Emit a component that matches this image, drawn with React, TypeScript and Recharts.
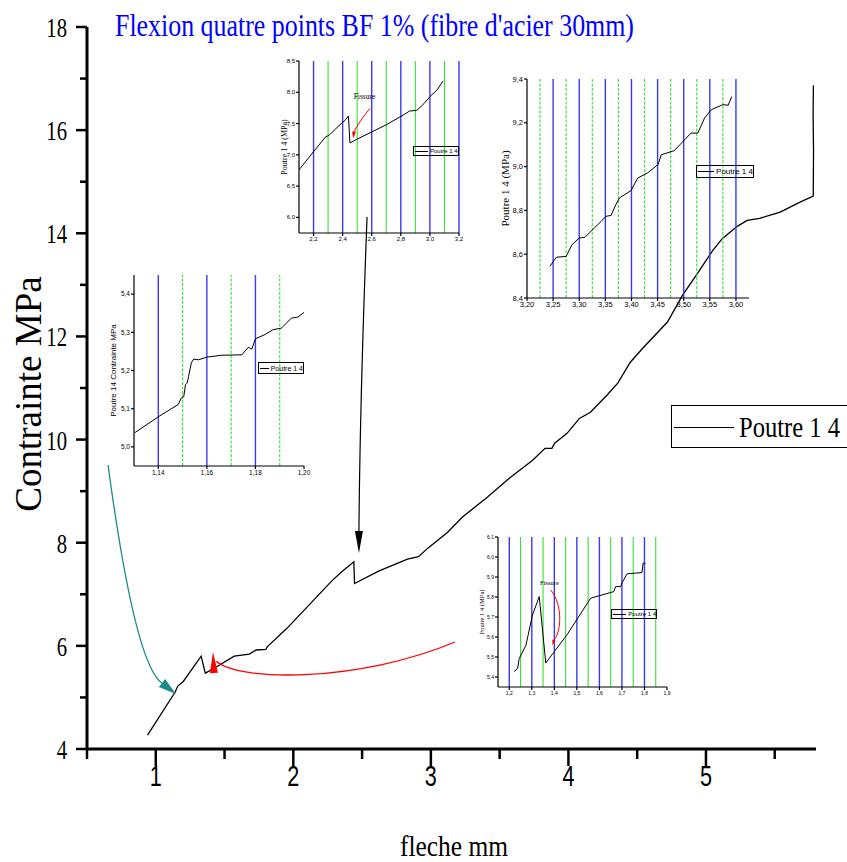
import React from 'react';
import { LineChart, Line, XAxis, YAxis, ReferenceLine } from 'recharts';

// main curve: fleche (mm) vs contrainte (MPa)
const mainFleche = [0.94, 1.14, 1.16, 1.2, 1.33, 1.36, 1.44, 1.57, 1.68, 1.73, 1.8, 1.81, 1.95, 2.11, 2.28, 2.35, 2.44, 2.445, 2.62, 2.83, 2.91, 2.98, 3.12, 3.23, 3.41, 3.57, 3.74, 3.83, 3.88, 3.9, 3.99, 4.08, 4.16, 4.28, 4.36, 4.45, 4.54, 4.72, 4.83, 4.93, 5.05, 5.12, 5.23, 5.3, 5.39, 5.54, 5.68, 5.78, 5.782, 5.779, 5.781];
const mainContrainte = [4.27, 5.1, 5.22, 5.31, 5.8, 5.47, 5.59, 5.8, 5.84, 5.92, 5.93, 5.98, 6.33, 6.78, 7.26, 7.43, 7.63, 7.21, 7.45, 7.68, 7.73, 7.9, 8.2, 8.5, 8.88, 9.25, 9.6, 9.83, 9.83, 9.93, 10.12, 10.41, 10.53, 10.86, 11.1, 11.5, 11.77, 12.28, 12.8, 13.19, 13.67, 13.9, 14.14, 14.25, 14.29, 14.41, 14.6, 14.72, 15.6, 16.3, 16.87];
const mainXTicks = [0.5, 1, 1.5, 2, 2.5, 3, 3.5, 4, 4.5, 5, 5.5];
const mainYTicks = [4, 5, 6, 7, 8, 9, 10, 11, 12, 13, 14, 15, 16, 17, 18];

// inset 1 : zoom around first crack (2.1 - 3.2 mm)
const in1X = [2.1, 2.2, 2.28, 2.31, 2.39, 2.42, 2.44, 2.45, 2.49, 2.7, 2.82, 2.86, 2.91, 2.96, 3.0, 3.05, 3.09];
const in1Y = [6.76, 7.05, 7.28, 7.32, 7.5, 7.56, 7.62, 7.19, 7.24, 7.48, 7.64, 7.7, 7.71, 7.82, 7.93, 8.04, 8.18];
const in1XTicks = [2.2, 2.4, 2.6, 2.8, 3.0, 3.2];
const in1YTicks = [6.0, 6.5, 7.0, 7.5, 8.0, 8.5];
const in1Blue = [2.2, 2.4, 2.6, 2.8, 3.0, 3.2];
const in1Green = [2.3, 2.5, 2.7, 2.9, 3.1];

// inset 2 : 3.2 - 3.6 mm
const in2X = [3.244, 3.256, 3.275, 3.286, 3.3, 3.311, 3.329, 3.342, 3.351, 3.361, 3.37, 3.377, 3.399, 3.412, 3.431, 3.451, 3.457, 3.482, 3.502, 3.514, 3.527, 3.54, 3.553, 3.575, 3.585, 3.592];
const in2Y = [8.545, 8.586, 8.59, 8.643, 8.674, 8.677, 8.72, 8.75, 8.773, 8.777, 8.826, 8.857, 8.89, 8.948, 8.971, 9.01, 9.054, 9.073, 9.123, 9.153, 9.153, 9.222, 9.26, 9.283, 9.28, 9.32];
const in2XTicks = [3.2, 3.25, 3.3, 3.35, 3.4, 3.45, 3.5, 3.55, 3.6];
const in2YTicks = [8.4, 8.6, 8.8, 9.0, 9.2, 9.4];
const in2Blue = [3.25, 3.3, 3.35, 3.4, 3.45, 3.5, 3.55, 3.6];
const in2Green = [3.225, 3.275, 3.325, 3.375, 3.425, 3.475, 3.525, 3.575];

// inset 3 : 1.13 - 1.20 mm
const in3X = [1.1303, 1.1403, 1.1482, 1.1495, 1.1505, 1.1512, 1.1519, 1.1525, 1.1536, 1.1546, 1.1566, 1.16, 1.1662, 1.1744, 1.1771, 1.1785, 1.18, 1.1839, 1.1873, 1.1907, 1.1948, 1.1975, 1.2];
const in3Y = [5.037, 5.08, 5.111, 5.128, 5.132, 5.163, 5.167, 5.185, 5.22, 5.23, 5.228, 5.235, 5.24, 5.241, 5.261, 5.256, 5.283, 5.294, 5.307, 5.311, 5.337, 5.34, 5.352];
const in3XTicks = [1.14, 1.16, 1.18, 1.2];
const in3YTicks = [5.0, 5.1, 5.2, 5.3, 5.4];
const in3Blue = [1.14, 1.16, 1.18];
const in3Green = [1.15, 1.17, 1.19];

// inset 4 : 1.2 - 1.9 mm
const in4X = [1.222, 1.237, 1.244, 1.274, 1.303, 1.333, 1.362, 1.458, 1.561, 1.664, 1.672, 1.694, 1.701, 1.723, 1.789, 1.794, 1.804];
const in4Y = [5.428, 5.442, 5.492, 5.559, 5.71, 5.802, 5.47, 5.614, 5.794, 5.827, 5.852, 5.852, 5.872, 5.916, 5.922, 5.969, 5.969];
const in4XTicks = [1.2, 1.3, 1.4, 1.5, 1.6, 1.7, 1.8, 1.9];
const in4YTicks = [5.4, 5.5, 5.6, 5.7, 5.8, 5.9, 6.0, 6.1];
const in4Blue = [1.2, 1.3, 1.4, 1.5, 1.6, 1.7, 1.8];
const in4Green = [1.25, 1.35, 1.45, 1.55, 1.65, 1.75, 1.85];

const zip = (xs: number[], ys: number[]) => xs.map((x, i) => ({ x, y: ys[i] }));

const MAIN = { x: 87, y: 27, w: 729, h: 722, xd: [0.5, 5.8], yd: [4, 18] };
const IN1 = { x: 299, y: 61, w: 160, h: 172, xd: [2.1, 3.2], yd: [5.75, 8.5] };
const IN2 = { x: 527, y: 79, w: 222, h: 219, xd: [3.2, 3.625], yd: [8.4, 9.4] };
const IN3 = { x: 134, y: 275, w: 170, h: 191, xd: [1.13, 1.2], yd: [4.95, 5.45] };
const IN4 = { x: 498, y: 537, w: 169, h: 150, xd: [1.15, 1.9], yd: [5.35, 6.1] };

const toPx = (r: any, p: number[]) => [
	r.x + ((p[0] - r.xd[0]) / (r.xd[1] - r.xd[0])) * r.w,
	r.y + r.h - ((p[1] - r.yd[0]) / (r.yd[1] - r.yd[0])) * r.h,
];

const comma = (d: number) => (v: number) => v.toFixed(d).replace('.', ',');

// annotation arrows, in data coordinates of the panel they live in
const arrows = [
	{ panel: MAIN, color: '#1a8a8a', width: 1.3, path: [[0.653, 9.507], [0.849, 5.629], [1.045, 5.28]], head: [[1.045, 5.28], [1.147, 5.066]], hw: 5 },
	{ panel: MAIN, color: '#ff0000', width: 1.3, path: [[3.175, 6.075], [2.485, 5.3], [1.612, 5.3], [1.44, 5.7]], head: [[1.423, 5.474], [1.416, 5.881]], hw: 4 },
	{ panel: MAIN, color: '#000000', width: 1.2, path: [[2.536, 14.316], [2.485, 10.77], [2.477, 8.227]], head: [[2.477, 8.227], [2.477, 7.8]], hw: 4 },
	{ panel: IN1, color: '#ff0000', width: 1, path: [[2.589, 7.745], [2.51, 7.52], [2.478, 7.37]], head: [[2.478, 7.37], [2.474, 7.266]], hw: 2 },
	{ panel: IN4, color: '#ff0000', width: 1, path: [[1.384, 5.835], [1.44, 5.76], [1.43, 5.62], [1.398, 5.585]], head: [[1.398, 5.585], [1.392, 5.557]], hw: 1.6 },
];

function arrowPath(a: any) {
	const pts = a.path.map((p: number[]) => toPx(a.panel, p));
	if (pts.length === 3) return `M${pts[0]} Q${pts[1]} ${pts[2]}`;
	return `M${pts[0]} C${pts[1]} ${pts[2]} ${pts[3]}`;
}

function arrowHead(a: any) {
	const [b, t] = a.head.map((p: number[]) => toPx(a.panel, p));
	const dx = t[0] - b[0];
	const dy = t[1] - b[1];
	const len = Math.hypot(dx, dy) || 1;
	const nx = (-dy / len) * a.hw;
	const ny = (dx / len) * a.hw;
	return `${b[0] + nx},${b[1] + ny} ${t[0]},${t[1]} ${b[0] - nx},${b[1] - ny}`;
}

const MainYTick = ({ y, payload }: any) => {
	const v = payload.value;
	const major = v % 2 === 0;
	return (
		<g>
			<line x1={major ? 76 : 80} x2={87} y1={y} y2={y} stroke="#000" strokeWidth={2.5} />
			{major && (
				<text transform={`translate(67 ${y + 10}) scale(0.74 1)`} textAnchor="end" fontFamily="Liberation Serif" fontSize={28} fill="#000">
					{v}
				</text>
			)}
		</g>
	);
};

const MainXTick = ({ x, payload }: any) => {
	const v = payload.value;
	const major = Number.isInteger(v);
	return (
		<g>
			<line x1={x} x2={x} y1={749} y2={749 + (major ? 17 : 10)} stroke="#000" strokeWidth={2.5} />
			{major && (
				<text transform={`translate(${x} 786) scale(0.72 1)`} textAnchor="middle" fontFamily="Liberation Sans" fontSize={30} fill="#000">
					{v}
				</text>
			)}
		</g>
	);
};

function Inset({ r, data, xTicks, yTicks, xd, yd, blue, green, greenDash, tickFont, label, labelX, labelFont, labelSize }: any) {
	const padL = 40;
	const padR = 12;
	const padT = 8;
	const padB = 20;
	const left = r.x - padL;
	const top = r.y - padT;
	return (
		<div style={{ position: 'absolute', left, top }}>
			<LineChart width={r.w + padL + padR} height={r.h + padT + padB} data={data} margin={{ top: padT, right: padR, left: 0, bottom: 0 }}>
				<XAxis
					type="number"
					dataKey="x"
					domain={r.xd}
					ticks={xTicks}
					interval={0}
					allowDataOverflow
					tickFormatter={comma(xd)}
					tick={{ fontSize: tickFont, fill: '#000', fontFamily: 'Liberation Sans' }}
					tickSize={3}
					tickMargin={1}
					height={padB}
					stroke="#000"
					strokeWidth={1.2}
				/>
				<YAxis
					type="number"
					domain={r.yd}
					ticks={yTicks}
					interval={0}
					allowDataOverflow
					tickFormatter={comma(yd)}
					tick={{ fontSize: tickFont, fill: '#000', fontFamily: 'Liberation Sans' }}
					tickSize={3}
					tickMargin={1}
					width={padL}
					stroke="#000"
					strokeWidth={1.2}
					label={{
						content: () => {
							const cx = labelX - left;
							const cy = padT + r.h / 2;
							return (
								<text x={cx} y={cy} transform={`rotate(-90 ${cx} ${cy})`} textAnchor="middle" dominantBaseline="central" fontFamily={labelFont} fontSize={labelSize} fill="#000">
									{label}
								</text>
							);
						},
					}}
				/>
				{blue.map((v: number) => (
					<ReferenceLine key={'b' + v} x={v} stroke="#3a3af0" strokeWidth={1.4} />
				))}
				{green.map((v: number) => (
					<ReferenceLine key={'g' + v} x={v} stroke="#3cdc3c" strokeWidth={1.1} strokeDasharray={greenDash ? '3 1.5' : undefined} />
				))}
				<Line type="linear" dataKey="y" stroke="#000" strokeWidth={1} dot={false} isAnimationActive={false} />
			</LineChart>
		</div>
	);
}

function SmallLegend({ x, y, w, h, font, lineW }: any) {
	return (
		<div
			style={{
				position: 'absolute',
				left: x,
				top: y,
				width: w,
				height: h,
				border: '1px solid #000',
				boxSizing: 'border-box',
				display: 'flex',
				alignItems: 'center',
				fontFamily: 'Liberation Sans',
				fontSize: font,
				whiteSpace: 'nowrap',
				overflow: 'hidden',
				background: 'transparent',
			}}
		>
			<span style={{ display: 'inline-block', width: lineW, borderTop: '1px solid #000', margin: '0 2px 0 1px' }} />
			<span>Poutre 1 4</span>
		</div>
	);
}

export default function App() {
	const mainData = zip(mainFleche, mainContrainte);
	return (
		<div style={{ position: 'absolute', left: 0, top: 0, width: 847, height: 862, background: '#fff', overflow: 'hidden' }}>
			<div style={{ position: 'absolute', left: 0, top: 0 }}>
				<LineChart width={847} height={862} data={mainData} margin={{ top: 27, right: 31, left: 0, bottom: 0 }}>
					<XAxis
						type="number"
						dataKey="x"
						domain={MAIN.xd}
						ticks={mainXTicks}
						interval={0}
						allowDataOverflow
						height={113}
						tickLine={false}
						tick={<MainXTick />}
						axisLine={{ stroke: '#000', strokeWidth: 3 }}
					/>
					<YAxis
						type="number"
						domain={MAIN.yd}
						ticks={mainYTicks}
						interval={0}
						allowDataOverflow
						width={87}
						tickLine={false}
						tick={<MainYTick />}
						axisLine={{ stroke: '#000', strokeWidth: 3 }}
					/>
					<Line type="linear" dataKey="y" stroke="#000" strokeWidth={1.3} dot={false} isAnimationActive={false} />
				</LineChart>
			</div>

			<Inset r={IN1} data={zip(in1X, in1Y)} xTicks={in1XTicks} yTicks={in1YTicks} xd={1} yd={1} blue={in1Blue} green={in1Green} greenDash={false} tickFont={6} label="Poutre 1 4 (MPa)" labelX={284} labelFont="Liberation Serif" labelSize={8} />
			<Inset r={IN2} data={zip(in2X, in2Y)} xTicks={in2XTicks} yTicks={in2YTicks} xd={2} yd={1} blue={in2Blue} green={in2Green} greenDash tickFont={7.5} label="Poutre 1 4 (MPa)" labelX={505} labelFont="Liberation Serif" labelSize={11} />
			<Inset r={IN3} data={zip(in3X, in3Y)} xTicks={in3XTicks} yTicks={in3YTicks} xd={2} yd={1} blue={in3Blue} green={in3Green} greenDash tickFont={6.5} label="Poutre 14 Contrainte MPa" labelX={113} labelFont="Liberation Sans" labelSize={8} />
			<Inset r={IN4} data={zip(in4X, in4Y)} xTicks={in4XTicks} yTicks={in4YTicks} xd={1} yd={1} blue={in4Blue} green={in4Green} greenDash={false} tickFont={5} label="Poutre 1 4 (MPa)" labelX={481} labelFont="Liberation Serif" labelSize={6.5} />

			<SmallLegend x={413} y={146} w={46} h={10} font={6} lineW={13} />
			<SmallLegend x={696} y={165} w={58} h={13} font={8} lineW={18} />
			<SmallLegend x={258} y={362} w={46} h={12} font={7} lineW={15} />
			<SmallLegend x={611} y={609} w={46} h={10} font={6} lineW={14} />

			{/* main legend */}
			<div style={{ position: 'absolute', left: 671, top: 405, width: 190, height: 43, border: '1.5px solid #000', boxSizing: 'border-box' }}>
				<div style={{ position: 'absolute', left: 2, top: 21, width: 60, borderTop: '1.3px solid #000' }} />
			</div>

			<svg width={847} height={862} style={{ position: 'absolute', left: 0, top: 0, pointerEvents: 'none' }}>
				<text x={115} y={36} textLength={519} lengthAdjust="spacingAndGlyphs" fontFamily="Liberation Serif" fontSize={32} fill="#0000ff">
					Flexion quatre points BF 1% (fibre d'acier 30mm)
				</text>
				<text x={28} y={394} transform="rotate(-90 28 394)" textAnchor="middle" dominantBaseline="central" fontFamily="Liberation Serif" fontSize={37} fill="#000">
					Contrainte MPa
				</text>
				<text x={400} y={856} textLength={108} lengthAdjust="spacingAndGlyphs" fontFamily="Liberation Serif" fontSize={30} fill="#000">
					fleche mm
				</text>
				<text transform="translate(739 437) scale(0.82 1)" fontFamily="Liberation Serif" fontSize={30} fill="#000">
					Poutre 1 4
				</text>
				<text x={364.5} y={99} textAnchor="middle" fontFamily="Liberation Serif" fontSize={7.5} fill="#000">
					Fissure
				</text>
				<text x={549.5} y={585} textAnchor="middle" fontFamily="Liberation Serif" fontSize={6.5} fill="#000">
					Fissure
				</text>
				{arrows.map((a, i) => (
					<g key={i}>
						<path d={arrowPath(a)} fill="none" stroke={a.color} strokeWidth={a.width} />
						<polygon points={arrowHead(a)} fill={a.color} />
					</g>
				))}
			</svg>
		</div>
	);
}
